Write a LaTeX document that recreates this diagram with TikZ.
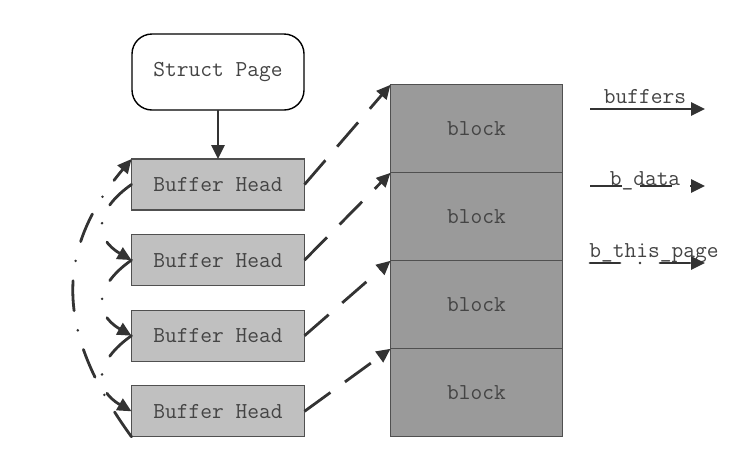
\documentclass[tikz,border=0pt]{standalone}
\usetikzlibrary{positioning,arrows.meta}
\definecolor{Ink}{HTML}{333333}
\definecolor{TextGray}{HTML}{444444}
\definecolor{Edge}{HTML}{505050}
\definecolor{HeadGray}{HTML}{C0C0C0}
\definecolor{BlockGray}{HTML}{9A9A9A}

\begin{document}
\begin{tikzpicture}[
      x=0.5pt, y=0.5pt,
      every node/.style={font=\ttfamily\fontsize{11.4}{13}\selectfont, text=TextGray},
      pagebox/.style={draw=black, line width=0.7pt, rounded corners=10pt, minimum width=86pt, minimum height=38pt, inner sep=0pt, outer sep=0pt},
      headbox/.style={draw=Edge, line width=0.6pt, fill=HeadGray, minimum width=86.5pt, minimum height=25.5pt, inner sep=0pt, outer sep=0pt},
      blockbox/.style={draw=Edge, line width=0.6pt, fill=BlockGray, minimum width=86pt, minimum height=44pt, inner sep=0pt, outer sep=0pt},
      ptr/.style={-{Triangle[length=7pt,width=6.5pt]}, line width=1.4pt, draw=Ink},
      dataptr/.style={ptr, dash pattern=on 16pt off 9pt},
      pageptr/.style={ptr, line cap=round, dash pattern=on 15pt off 10pt on 0pt off 10pt}
    ]
    \useasboundingbox (0,0) rectangle (742,452);

    \node[pagebox] (page) at (218,380) {Struct Page};
    \node[headbox, below=24.5pt of page] (head1) {Buffer Head};
    \node[headbox, below=12.3pt of head1] (head2) {Buffer Head};
    \node[headbox, below=12.3pt of head2] (head3) {Buffer Head};
    \node[headbox, below=12.3pt of head3] (head4) {Buffer Head};

    \node[blockbox, right=43pt of head4.south east, anchor=south west] (blk4) {block};
    \node[blockbox, above=0pt of blk4] (blk3) {block};
    \node[blockbox, above=0pt of blk3] (blk2) {block};
    \node[blockbox, above=0pt of blk2] (blk1) {block};

    \draw[ptr] (page) -- (head1);

    \draw[dataptr] (head1.east) -- (blk1.north west);
    \draw[dataptr] (head2.east) -- (blk2.north west);
    \draw[dataptr] (head3.east) -- (blk3.north west);
    \draw[dataptr] (head4.east) -- (blk4.north west);

    \draw[pageptr] (head1.west) to[out=215, in=150, looseness=1.5] (head2.west);
    \draw[pageptr] (head2.west) to[out=215, in=150, looseness=1.5] (head3.west);
    \draw[pageptr] (head3.west) to[out=215, in=150, looseness=1.5] (head4.west);
    \draw[pageptr] (head4.south west) to[out=126, in=230, looseness=1.15] (head1.north west);

    % legend
    \coordinate (bufstart) at (590,343);
    \coordinate (bufend) at (705,343);
    \coordinate (datastart) at (590,266);
    \coordinate (dataend) at (705,266);
    \coordinate (nextstart) at (590,189);
    \coordinate (nextend) at (705,189);
    \node[anchor=base] (buflabel) at (645,349) {buffers};
    \node[anchor=base] (datalabel) at (645,267) {b\_data};
    \node[anchor=base] (nextlabel) at (654,195) {b\_this\_page};
    \draw[ptr] (bufstart) -- (bufend);
    \draw[dataptr] (datastart) -- (dataend);
    \draw[pageptr] (nextstart) -- (nextend);
  \end{tikzpicture}
\end{document}
